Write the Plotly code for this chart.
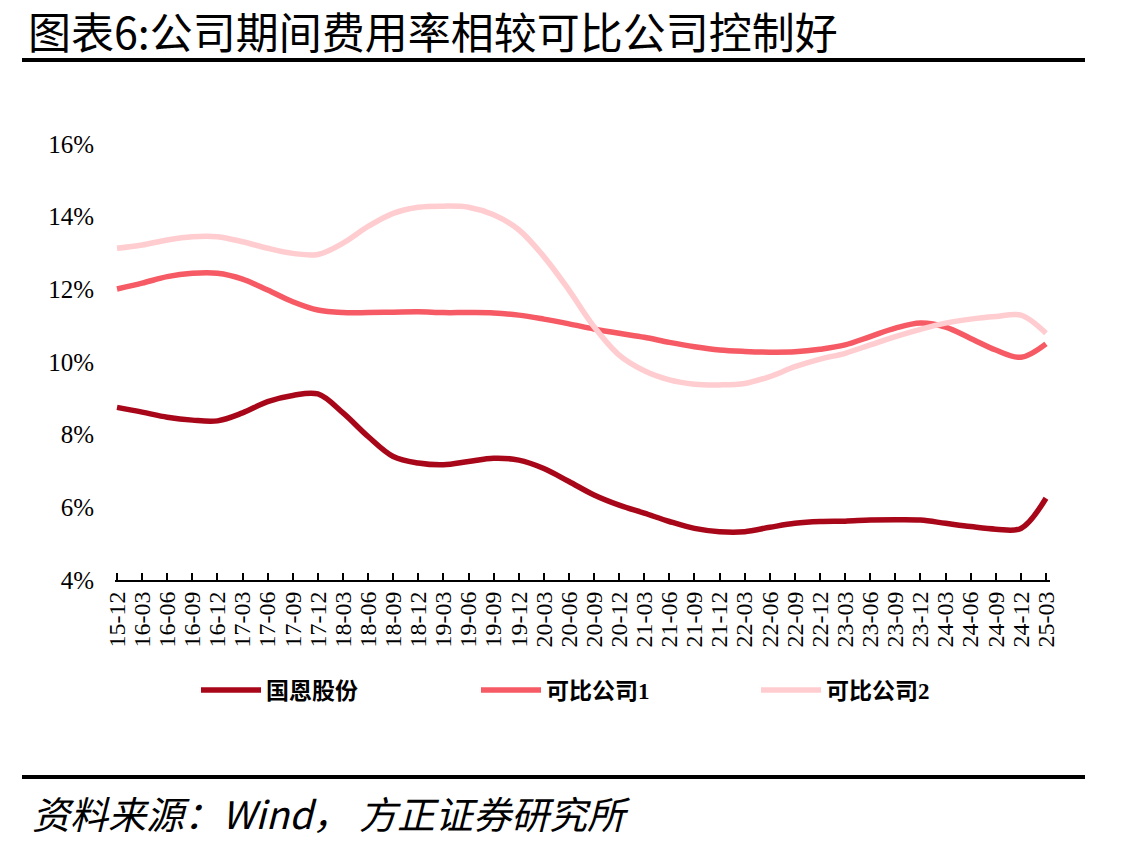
import plotly.graph_objects as go

quarters = ["15-12",
            "16-03", "16-06", "16-09", "16-12",
            "17-03", "17-06", "17-09", "17-12",
            "18-03", "18-06", "18-09", "18-12",
            "19-03", "19-06", "19-09", "19-12",
            "20-03", "20-06", "20-09", "20-12",
            "21-03", "21-06", "21-09", "21-12",
            "22-03", "22-06", "22-09", "22-12",
            "23-03", "23-06", "23-09", "23-12",
            "24-03", "24-06", "24-09", "24-12",
            "25-03"]

guoen = [8.75, 8.62, 8.48, 8.40, 8.38,
         8.60, 8.91, 9.08, 9.12,
         8.60, 7.95, 7.40, 7.22,
         7.17, 7.26, 7.35, 7.30,
         7.07, 6.71, 6.34, 6.06,
         5.84, 5.61, 5.42, 5.33,
         5.33, 5.45, 5.56, 5.61,
         5.62, 5.65, 5.66, 5.65,
         5.56, 5.47, 5.40, 5.42,
         6.25]

peer1 = [12.01, 12.17, 12.35, 12.44, 12.44,
         12.28, 11.98, 11.66, 11.43,
         11.36, 11.36, 11.37, 11.38,
         11.36, 11.36, 11.35, 11.29,
         11.18, 11.05, 10.91, 10.79,
         10.68, 10.54, 10.42, 10.33,
         10.29, 10.27, 10.28, 10.35,
         10.47, 10.70, 10.93, 11.07,
         10.96, 10.65, 10.33, 10.13,
         10.50]

peer2 = [13.13, 13.22, 13.36, 13.45, 13.45,
         13.31, 13.13, 12.99, 12.96,
         13.27, 13.73, 14.09, 14.26,
         14.29, 14.26, 14.05, 13.64,
         12.90, 11.98, 10.97, 10.19,
         9.76, 9.51, 9.39, 9.37,
         9.41, 9.60, 9.87, 10.08,
         10.24, 10.47, 10.70, 10.90,
         11.07, 11.18, 11.25, 11.29,
         10.79]

series_names = ["国恩股份", "可比公司1", "可比公司2"]
series_colors = ["#A8071A", "#F65A64", "#FFCCD0"]
y_ticks = [4, 6, 8, 10, 12, 14, 16]
y_tick_text = [f"{v}%" for v in y_ticks]

title_text = "图表6:公司期间费用率相较可比公司控制好"
source_text = "资料来源：Wind， 方正证券研究所"

W, H = 1130, 848
L, R, T, B = 115, 80, 144, 268
PW, PH = W - L - R, H - T - B


def px(xp):
    return (xp - L) / PW


def py(yp):
    return (H - B - yp) / PH


fig = go.Figure()
for name, vals, col in zip(series_names, [guoen, peer1, peer2], series_colors):
    fig.add_trace(go.Scatter(
        x=quarters, y=vals, name=name, mode="lines",
        line=dict(color=col, width=5.5, shape="spline", smoothing=1.0),
    ))

fig.update_layout(
    width=W, height=H,
    margin=dict(l=L, r=R, t=T, b=B),
    paper_bgcolor="white", plot_bgcolor="white",
    showlegend=True,
    legend=dict(
        orientation="h", x=px(196), xanchor="left", y=py(690), yanchor="middle",
        font=dict(family="Liberation Serif, Noto Sans CJK SC", size=23, color="black", weight="bold"),
        entrywidth=205, entrywidthmode="pixels", itemwidth=60,
        bgcolor="rgba(0,0,0,0)",
    ),
    xaxis=dict(
        type="category", range=[-0.08, 37.16],
        tickmode="array", tickvals=quarters, ticktext=quarters,
        showline=True, linecolor="black", linewidth=2,
        ticks="inside", ticklen=7, tickwidth=1.5, tickcolor="black",
        tickangle=-90, showgrid=False, zeroline=False,
        tickfont=dict(family="Liberation Serif", size=24, color="black"),
    ),
    yaxis=dict(
        range=[4, 16], tickmode="array", tickvals=y_ticks, ticktext=y_tick_text,
        showline=False, showgrid=False, zeroline=False, ticks="",
        ticklabelstandoff=20,
        tickfont=dict(family="Liberation Serif", size=25, color="black"),
    ),
    shapes=[
        dict(type="line", xref="paper", yref="paper", x0=px(22), x1=px(1085), y0=py(60), y1=py(60),
             line=dict(color="black", width=4)),
        dict(type="line", xref="paper", yref="paper", x0=px(22), x1=px(1085), y0=py(777), y1=py(777),
             line=dict(color="black", width=4)),
    ],
    annotations=[
        dict(text=title_text, xref="paper", yref="paper", x=px(26), y=py(30),
             xanchor="left", yanchor="middle", showarrow=False,
             font=dict(family="Noto Sans CJK SC", size=43, color="black")),
        dict(text=source_text, xref="paper", yref="paper", x=px(30), y=py(813),
             xanchor="left", yanchor="middle", showarrow=False,
             font=dict(family="Noto Sans CJK SC", size=38, color="black", style="italic")),
    ],
)

fig.write_html("out.html")
